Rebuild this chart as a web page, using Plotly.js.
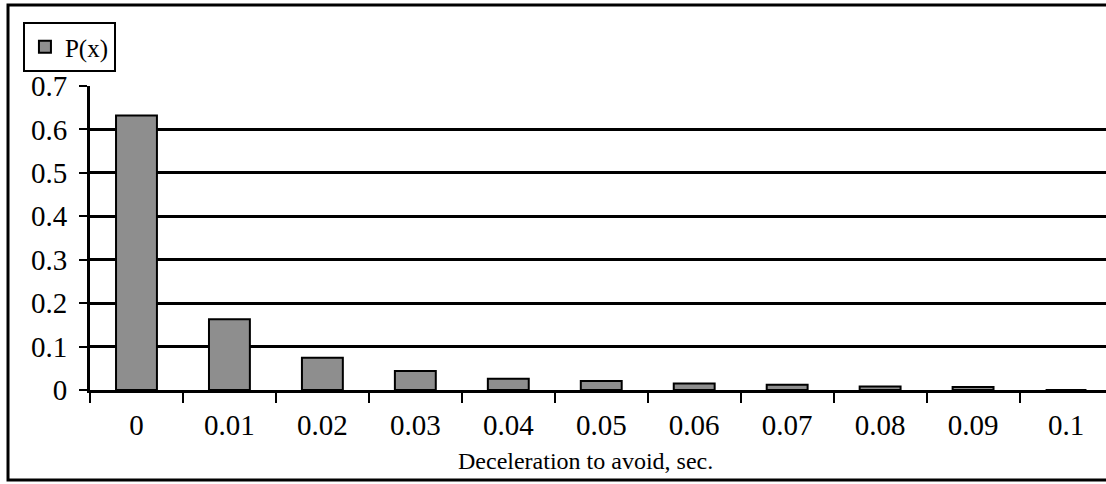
<!DOCTYPE html>
<html>
<head>
<meta charset="utf-8">
<script src="https://cdn.plot.ly/plotly-3.0.1.min.js"></script>
<style>
  html, body { margin: 0; padding: 0; background: #fff; }
  #chart { width: 1106px; height: 484px; }
</style>
</head>
<body>
<div id="chart"></div>
<script>
// Data
const categories = ["0", "0.01", "0.02", "0.03", "0.04", "0.05", "0.06", "0.07", "0.08", "0.09", "0.1"];
const pValues = [0.632, 0.163, 0.074, 0.044, 0.026, 0.021, 0.015, 0.012, 0.008, 0.007, 0];
const seriesName = "P(x)";
const xTitle = "Deceleration to avoid, sec.";
const yTickValues = [0, 0.1, 0.2, 0.3, 0.4, 0.5, 0.6, 0.7];

const serif = "Liberation Serif, Times New Roman, serif";

const trace = {
  type: "bar",
  x: categories,
  y: pValues,
  name: seriesName,
  width: 0.44,
  marker: {
    color: "#8e8e8e",
    line: { color: "#000", width: 2 }
  },
  showlegend: true
};

const layout = {
  width: 1106,
  height: 484,
  margin: { l: 90, r: 0, t: 86, b: 94, pad: 0 },
  paper_bgcolor: "#fff",
  plot_bgcolor: "#fff",
  font: { family: serif, color: "#000", size: 29 },
  xaxis: {
    type: "category",
    range: [-0.5, 10.43],
    showgrid: false,
    zeroline: false,
    showline: true,
    linecolor: "#000",
    linewidth: 3,
    ticks: "outside",
    tickson: "boundaries",
    ticklen: 10,
    tickwidth: 2,
    tickcolor: "#000",
    ticklabelstandoff: 7,
    tickfont: { family: serif, size: 29, color: "#000" }
  },
  yaxis: {
    range: [0, 0.7],
    tickvals: yTickValues,
    ticktext: yTickValues.map(v => String(v)),
    showgrid: true,
    gridcolor: "#000",
    gridwidth: 3,
    zeroline: false,
    showline: true,
    linecolor: "#000",
    linewidth: 3,
    ticks: "outside",
    ticklen: 8,
    tickwidth: 2,
    tickcolor: "#000",
    ticklabelstandoff: 6,
    tickfont: { family: serif, size: 29, color: "#000" }
  },
  showlegend: true,
  legend: {
    x: -0.066,
    y: 1.2105,
    xanchor: "left",
    yanchor: "top",
    bgcolor: "#fff",
    bordercolor: "#000",
    borderwidth: 2,
    font: { family: serif, size: 25, color: "#000" },
    itemwidth: 30,
    tracegroupgap: 0
  },
  annotations: [{
    text: xTitle,
    xref: "paper",
    yref: "paper",
    x: 0.488,
    y: -0.232,
    xanchor: "center",
    yanchor: "middle",
    showarrow: false,
    font: { family: serif, size: 24, color: "#000" }
  }],
  shapes: [{
    type: "rect",
    xref: "paper",
    yref: "paper",
    x0: -0.0807,
    x1: 1.02,
    y0: -0.296,
    y1: 1.2664,
    line: { color: "#000", width: 3 },
    fillcolor: "rgba(0,0,0,0)",
    layer: "below"
  }]
};

Plotly.newPlot("chart", [trace], layout, { displayModeBar: false, staticPlot: true });
</script>
</body>
</html>
